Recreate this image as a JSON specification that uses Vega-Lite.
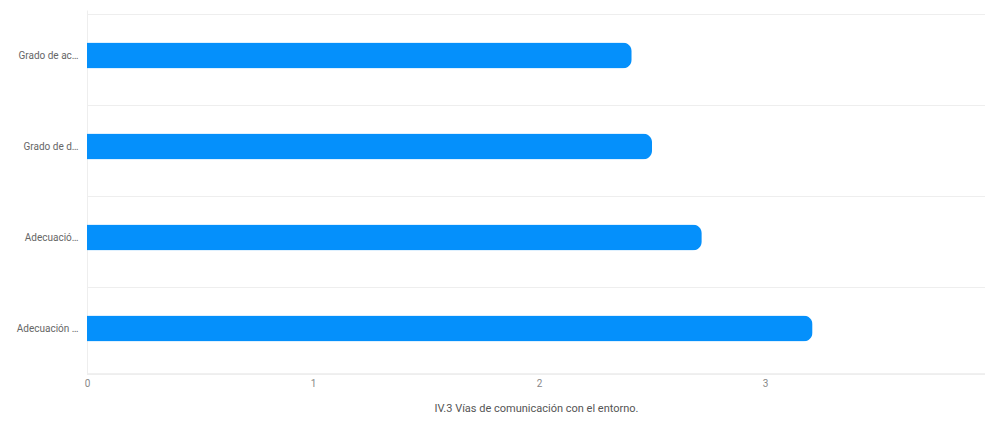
{
  "$schema": "https://vega.github.io/schema/vega-lite/v6.json",
  "autosize": {"type": "none"},
  "width": 898,
  "height": 364,
  "padding": {"left": 87, "top": 10, "right": 0, "bottom": 49},
  "background": "white",
  "data": {
    "values": [
      {"label": "Grado de ac…", "value": 2.41},
      {"label": "Grado de d…", "value": 2.5},
      {"label": "Adecuació…", "value": 2.72},
      {"label": "Adecuación …", "value": 3.21}
    ]
  },
  "config": {
    "view": {"stroke": null},
    "font": "Roboto"
  },
  "layer": [
    {
      "mark": {"type": "rule", "color": "#eeeeee", "strokeWidth": 1},
      "encoding": {"y": {"datum": 0, "type": "quantitative", "scale": {"domain": [0, 1]}, "axis": null}}
    },
    {
      "mark": {"type": "bar", "color": "#0590fb", "size": 26, "cornerRadiusEnd": 9},
      "encoding": {
        "y": {
          "field": "label",
          "type": "nominal",
          "sort": null,
          "title": null,
          "axis": {
            "bandPosition": 0,
            "grid": true,
            "gridColor": "#eeeeee",
            "ticks": false,
            "domain": true,
            "domainColor": "#eeeeee",
            "labelFontSize": 10,
            "labelColor": "#666666",
            "labelPadding": 9,
            "labelFont": "Roboto"
          }
        },
        "x": {
          "field": "value",
          "type": "quantitative",
          "scale": {"domain": [0, 3.973], "nice": false},
          "title": "IV.3 Vías de comunicación con el entorno.",
          "axis": {
            "values": [0, 1, 2, 3],
            "grid": false,
            "ticks": false,
            "labelFlush": false,
            "domainColor": "#eeeeee",
            "labelFontSize": 10,
            "labelColor": "#888888",
            "labelPadding": 4,
            "titleFontSize": 11,
            "titleFontWeight": "normal",
            "titleColor": "#555555",
            "titlePadding": 14
          }
        }
      }
    }
  ],
  "resolve": {"scale": {"y": "independent"}}
}
